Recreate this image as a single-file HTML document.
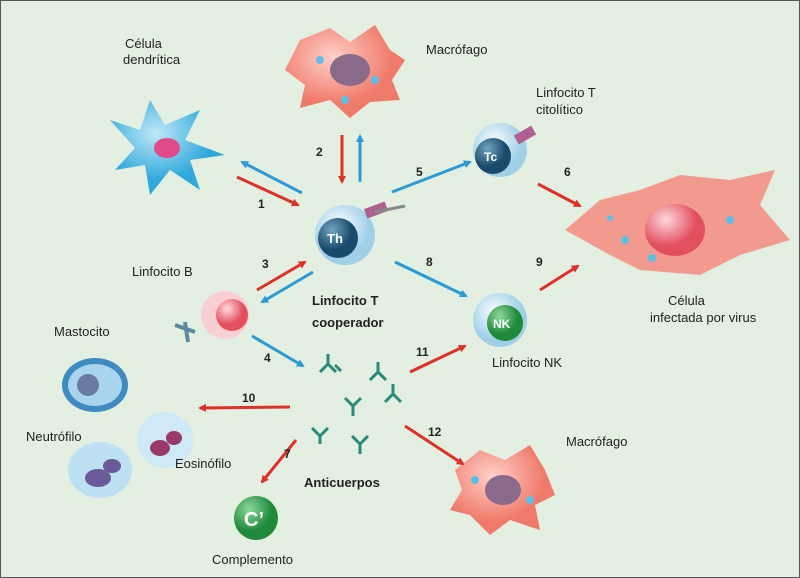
<!DOCTYPE html>
<html><head><meta charset="utf-8"><style>
html,body{margin:0;padding:0;background:#fff}
svg{display:block}
text{font-family:"Liberation Sans",sans-serif;font-size:13px;fill:#222}
.b{font-weight:bold}
.n{font-weight:bold;font-size:12px}
</style></head><body>
<svg width="800" height="578" viewBox="0 0 800 578" xmlns="http://www.w3.org/2000/svg">
<defs>
<marker id="r" markerWidth="8" markerHeight="8" refX="6" refY="4" orient="auto" markerUnits="userSpaceOnUse" viewBox="0 0 8 8"><path d="M0,0 L8,4 L0,8 z" fill="#e0302a"/></marker>
<marker id="bl" markerWidth="8" markerHeight="8" refX="6" refY="4" orient="auto" markerUnits="userSpaceOnUse" viewBox="0 0 8 8"><path d="M0,0 L8,4 L0,8 z" fill="#2b9ad6"/></marker>
<radialGradient id="g1" cx="40%" cy="35%"><stop offset="0" stop-color="#ffd0c8"/><stop offset="1" stop-color="#f07a6a"/></radialGradient>
<radialGradient id="gb" cx="40%" cy="35%"><stop offset="0" stop-color="#bfe8f8"/><stop offset="1" stop-color="#2fa8dc"/></radialGradient>
<radialGradient id="gn" cx="35%" cy="30%"><stop offset="0" stop-color="#6fa6c0"/><stop offset="1" stop-color="#1a4a6a"/></radialGradient>
<radialGradient id="gg" cx="35%" cy="30%"><stop offset="0" stop-color="#8fd8a0"/><stop offset="1" stop-color="#1f8a3a"/></radialGradient>
<radialGradient id="gp" cx="35%" cy="30%"><stop offset="0" stop-color="#ffd8dd"/><stop offset="1" stop-color="#e25060"/></radialGradient>
<radialGradient id="gw" cx="40%" cy="35%"><stop offset="0" stop-color="#ffffff"/><stop offset="1" stop-color="#9fd0e8"/></radialGradient>
</defs>
<rect x="0" y="0" width="800" height="578" fill="#e3efe1" stroke="#555" stroke-width="2"/>

<!-- dendritic -->
<path d="M110,120 L140,130 L150,100 L165,125 L200,110 L185,140 L225,155 L190,160 L200,190 L170,170 L150,195 L145,165 L115,170 L135,148 Z" fill="url(#gb)"/>
<ellipse cx="167" cy="148" rx="13" ry="10" fill="#e04a8a"/>

<!-- macrophage top -->
<path d="M300,40 L330,28 L350,42 L375,25 L390,50 L405,60 L392,80 L400,100 L370,102 L350,118 L330,100 L300,108 L305,85 L285,70 Z" fill="url(#g1)"/>
<ellipse cx="350" cy="70" rx="20" ry="16" fill="#8a6a8a"/>
<circle cx="320" cy="60" r="4" fill="#5bc0e8"/><circle cx="375" cy="80" r="4" fill="#5bc0e8"/><circle cx="345" cy="100" r="4" fill="#5bc0e8"/>

<!-- Th -->
<circle cx="345" cy="235" r="30" fill="url(#gw)"/>
<circle cx="338" cy="238" r="20" fill="url(#gn)"/>
<text x="327" y="243" style="fill:#fff;font-weight:bold;font-size:13px">Th</text>
<rect x="365" y="205" width="22" height="10" fill="#b06090" transform="rotate(-20 376 210)"/>
<line x1="375" y1="212" x2="405" y2="206" stroke="#888" stroke-width="3"/>

<!-- Tc -->
<circle cx="500" cy="150" r="27" fill="url(#gw)"/>
<circle cx="493" cy="156" r="18" fill="url(#gn)"/>
<text x="484" y="161" style="fill:#fff;font-weight:bold;font-size:12px">Tc</text>
<rect x="515" y="130" width="20" height="10" fill="#b06090" transform="rotate(-30 525 135)"/>

<!-- infected cell -->
<path d="M565,230 L600,200 L640,190 L680,175 L730,180 L775,170 L760,205 L790,240 L740,255 L700,275 L640,270 L610,255 Z" fill="#f39a8e"/>
<ellipse cx="675" cy="230" rx="30" ry="26" fill="url(#gp)"/>
<circle cx="625" cy="240" r="4" fill="#5bc0e8"/><circle cx="652" cy="258" r="4" fill="#5bc0e8"/><circle cx="730" cy="220" r="4" fill="#5bc0e8"/><circle cx="610" cy="218" r="3" fill="#5bc0e8"/>

<!-- NK -->
<circle cx="500" cy="320" r="27" fill="url(#gw)"/>
<circle cx="505" cy="323" r="18" fill="url(#gg)"/>
<text x="493" y="328" style="fill:#fff;font-weight:bold;font-size:12px">NK</text>

<!-- B cell -->
<circle cx="225" cy="315" r="24" fill="#f8d0d4"/>
<circle cx="232" cy="315" r="16" fill="url(#gp)"/>
<path d="M175,325 L195,332 M185,322 L188,342" stroke="#5a8aa0" stroke-width="4"/>

<!-- mastocyte -->
<ellipse cx="95" cy="385" rx="33" ry="27" fill="#3f8ac0"/>
<ellipse cx="95" cy="385" rx="27" ry="21" fill="#a9d4ee"/>
<circle cx="88" cy="385" r="11" fill="#6a7aa0"/>
<!-- neutrophil -->
<ellipse cx="100" cy="470" rx="32" ry="28" fill="#bde0f2"/>
<ellipse cx="98" cy="478" rx="13" ry="9" fill="#6a5a9a"/><ellipse cx="112" cy="466" rx="9" ry="7" fill="#6a5a9a"/>
<!-- eosinophil -->
<circle cx="165" cy="440" r="28" fill="#cfe9f6"/>
<ellipse cx="160" cy="448" rx="10" ry="8" fill="#9a3a6a"/><ellipse cx="174" cy="438" rx="8" ry="7" fill="#9a3a6a"/>

<!-- antibodies -->
<g stroke="#2a8a7a" stroke-width="3" fill="none">
<path d="M320,372 l8,-8 l8,8 M328,364 l0,-10"/>
<path d="M370,380 l8,-8 l8,8 M378,372 l0,-10"/>
<path d="M345,398 l8,8 M353,406 l8,-8 M353,406 l0,10"/>
<path d="M385,402 l8,-8 l8,8 M393,394 l0,-10"/>
<path d="M312,428 l8,8 l8,-8 M320,436 l0,8"/>
<path d="M352,436 l8,8 l8,-8 M360,444 l0,10"/>
<path d="M335,365 l6,6"/>
</g>

<!-- C' -->
<circle cx="256" cy="518" r="22" fill="url(#gg)"/>
<text x="244" y="526" style="fill:#fff;font-weight:bold;font-size:20px">C’</text>

<!-- macrophage bottom -->
<path d="M455,470 L480,450 L505,460 L530,445 L545,470 L555,495 L535,505 L540,530 L510,520 L490,535 L470,515 L450,510 L462,490 Z" fill="url(#g1)"/>
<ellipse cx="503" cy="490" rx="18" ry="15" fill="#8a6a8a"/>
<circle cx="475" cy="480" r="4" fill="#5bc0e8"/><circle cx="530" cy="500" r="4" fill="#5bc0e8"/>

<!-- arrows -->
<g stroke-width="3" fill="none">
<line x1="237" y1="177" x2="298" y2="205" stroke="#e0302a" marker-end="url(#r)"/>
<line x1="302" y1="193" x2="242" y2="162" stroke="#2b9ad6" marker-end="url(#bl)"/>
<line x1="342" y1="135" x2="342" y2="182" stroke="#e0302a" marker-end="url(#r)"/>
<line x1="360" y1="182" x2="360" y2="136" stroke="#2b9ad6" marker-end="url(#bl)"/>
<line x1="392" y1="192" x2="470" y2="162" stroke="#2b9ad6" marker-end="url(#bl)"/>
<line x1="538" y1="184" x2="580" y2="206" stroke="#e0302a" marker-end="url(#r)"/>
<line x1="257" y1="290" x2="305" y2="262" stroke="#e0302a" marker-end="url(#r)"/>
<line x1="313" y1="272" x2="262" y2="302" stroke="#2b9ad6" marker-end="url(#bl)"/>
<line x1="395" y1="262" x2="466" y2="296" stroke="#2b9ad6" marker-end="url(#bl)"/>
<line x1="540" y1="290" x2="578" y2="266" stroke="#e0302a" marker-end="url(#r)"/>
<line x1="252" y1="336" x2="303" y2="366" stroke="#2b9ad6" marker-end="url(#bl)"/>
<line x1="410" y1="372" x2="465" y2="346" stroke="#e0302a" marker-end="url(#r)"/>
<line x1="290" y1="407" x2="200" y2="408" stroke="#e0302a" marker-end="url(#r)"/>
<line x1="296" y1="440" x2="262" y2="482" stroke="#e0302a" marker-end="url(#r)"/>
<line x1="405" y1="426" x2="463" y2="464" stroke="#e0302a" marker-end="url(#r)"/>
</g>

<!-- numbers -->
<text class="n" x="258" y="208">1</text>
<text class="n" x="316" y="156">2</text>
<text class="n" x="262" y="268">3</text>
<text class="n" x="264" y="362">4</text>
<text class="n" x="416" y="176">5</text>
<text class="n" x="564" y="176">6</text>
<text class="n" x="284" y="458">7</text>
<text class="n" x="426" y="266">8</text>
<text class="n" x="536" y="266">9</text>
<text class="n" x="242" y="402">10</text>
<text class="n" x="416" y="356">11</text>
<text class="n" x="428" y="436">12</text>

<!-- labels -->
<text x="125" y="48">Célula</text>
<text x="123" y="64">dendrítica</text>
<text x="426" y="54">Macrófago</text>
<text x="536" y="97">Linfocito T</text>
<text x="536" y="114">citolítico</text>
<text x="132" y="276">Linfocito B</text>
<text class="b" x="312" y="305">Linfocito T</text>
<text class="b" x="312" y="327">cooperador</text>
<text x="54" y="336">Mastocito</text>
<text x="26" y="441">Neutrófilo</text>
<text x="175" y="468">Eosinófilo</text>
<text class="b" x="304" y="487">Anticuerpos</text>
<text x="212" y="564">Complemento</text>
<text x="492" y="367">Linfocito NK</text>
<text x="668" y="305">Célula</text>
<text x="650" y="322">infectada por virus</text>
<text x="566" y="446">Macrófago</text>
</svg>
</body></html>
